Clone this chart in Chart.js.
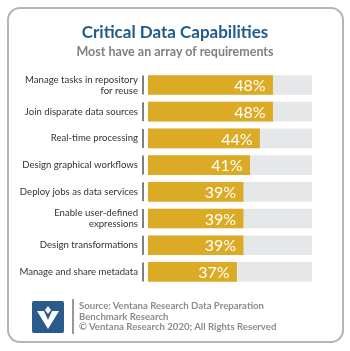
<!DOCTYPE html>
<html lang="en">
<head>
    <meta charset="UTF-8">
    <title>Critical Data Capabilities</title>
    <script src="https://cdn.jsdelivr.net/npm/chart.js"></script>
    <style>
        body {
            margin: 0;
            width: 350px;
            height: 351px;
            background: #fff;
            font-family: Lato, Arial, sans-serif;
            position: relative;
            overflow: hidden;
        }
        #card {
            position: absolute;
            left: 7px;
            top: 7px;
            width: 333px;
            height: 332px;
            border: 2px solid #b4b4b4;
            border-radius: 13px;
        }
        #title {
            position: absolute;
            top: 21px;
            width: 350px;
            text-align: center;
            font-size: 17px;
            font-weight: bold;
            color: #1f5a8e;
        }
        #subtitle {
            position: absolute;
            top: 44px;
            width: 350px;
            text-align: center;
            font-size: 12.5px;
            font-weight: bold;
            color: #808080;
        }
        #chartBox {
            position: absolute;
            left: 0;
            top: 0;
            width: 350px;
            height: 351px;
        }
        #logo {
            position: absolute;
            left: 32px;
            top: 301px;
        }
        #sep {
            position: absolute;
            left: 72px;
            top: 299px;
            width: 1.5px;
            height: 35px;
            background: #999;
        }
        #source {
            position: absolute;
            left: 79px;
            top: 301px;
            font-size: 9.6px;
            line-height: 10.5px;
            font-weight: bold;
            color: #8c8c8c;
        }
    </style>
</head>
<body>
    <div id="card"></div>
    <div id="chartBox"><canvas id="chart" width="350" height="351"></canvas></div>
    <div id="title">Critical Data Capabilities</div>
    <div id="subtitle">Most have an array of requirements</div>
    <svg id="logo" width="32" height="32" viewBox="0 0 32 32">
        <rect x="0" y="0" width="32" height="32" rx="2" fill="#2a5b8c"/>
        <polygon points="5,10 12,10 16,19 20,10 27,10 16,28" fill="#fff"/>
        <polygon points="16,5 19,9 16,13 13,9" fill="#fff"/>
    </svg>
    <div id="sep"></div>
    <div id="source">Source: Ventana Research Data Preparation<br>Benchmark Research<br>© Ventana Research 2020; All Rights Reserved</div>

    <script>
        const categories = [
            ['Manage tasks in repository', 'for reuse'],
            'Join disparate data sources',
            'Real-time processing',
            'Design graphical workflows',
            'Deploy jobs as data services',
            ['Enable user-defined', 'expressions'],
            'Design transformations',
            'Manage and share metadata'
        ];
        const values = [48, 48, 44, 41, 39, 39, 39, 37];
        const axisMin = 10;
        const axisMax = 60;
        const track = categories.map(() => axisMax);

        // white % labels inside the bars and the little divider per row
        const barExtras = {
            id: 'barExtras',
            afterDatasetsDraw(chart) {
                const ctx = chart.ctx;
                const meta = chart.getDatasetMeta(0);
                const left = chart.chartArea.left;
                ctx.save();
                meta.data.forEach((bar, i) => {
                    const h = bar.height;
                    ctx.strokeStyle = '#555';
                    ctx.lineWidth = 1.5;
                    ctx.beginPath();
                    ctx.moveTo(left - 5, bar.y - h / 2);
                    ctx.lineTo(left - 5, bar.y + h / 2);
                    ctx.stroke();

                    ctx.fillStyle = '#fff';
                    ctx.font = '16px Lato, Arial, sans-serif';
                    ctx.textAlign = 'right';
                    ctx.textBaseline = 'middle';
                    ctx.fillText(values[i] + '%', bar.x - 7, bar.y + 1);
                });
                ctx.restore();
            }
        };

        new Chart(document.getElementById('chart'), {
            type: 'bar',
            data: {
                labels: categories,
                datasets: [
                    {
                        data: values,
                        backgroundColor: '#dcab25',
                        barThickness: 19,
                        grouped: false
                    },
                    {
                        data: track,
                        backgroundColor: '#e6e7e8',
                        barThickness: 19,
                        grouped: false
                    }
                ]
            },
            options: {
                indexAxis: 'y',
                responsive: false,
                animation: false,
                layout: {
                    padding: { top: 71.6, bottom: 65.7, left: 0, right: 38 }
                },
                plugins: {
                    legend: { display: false },
                    tooltip: { enabled: false }
                },
                scales: {
                    x: {
                        min: axisMin,
                        max: axisMax,
                        display: false
                    },
                    y: {
                        grid: { display: false, drawTicks: false },
                        border: { display: false },
                        afterFit(scale) { scale.width = 148; },
                        ticks: {
                            autoSkip: false,
                            padding: 10,
                            color: '#333',
                            font: { family: 'Lato, Arial, sans-serif', size: 9.6, lineHeight: 1.15 }
                        }
                    }
                }
            },
            plugins: [barExtras]
        });
    </script>
</body>
</html>
